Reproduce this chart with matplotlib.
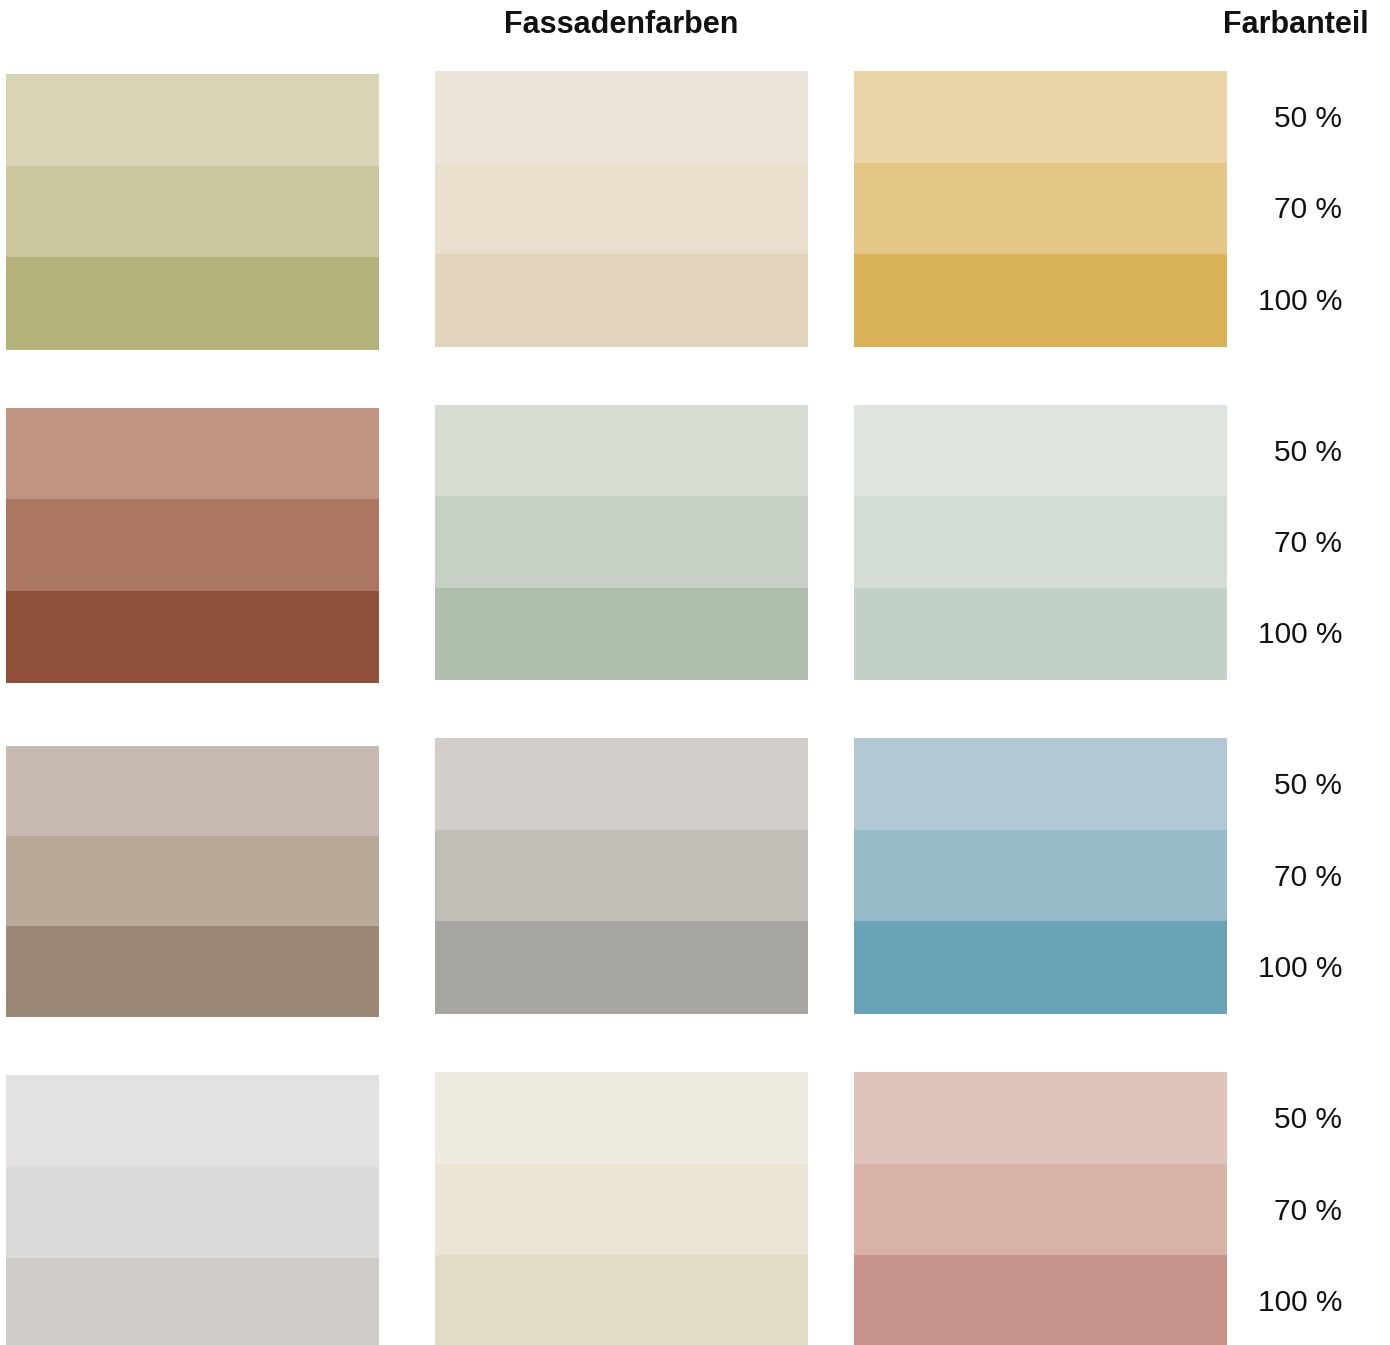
import matplotlib
matplotlib.use('Agg')
import matplotlib.pyplot as plt

plt.rcParams['font.family'] = ['Liberation Sans', 'DejaVu Sans']

# colour shades per swatch: [50 %, 70 %, 100 %], rows top to bottom, columns left to right
row1 = [['#d8d4b5', '#c9c79b', '#b3b279'],
        ['#ede5d9', '#e9dfcd', '#e2d4bb'],
        ['#ebd5a6', '#e4c687', '#dab358']]
row2 = [['#c09483', '#ab7761', '#8f513a'],
        ['#d6dcd2', '#c6d0c4', '#b0bfad'],
        ['#dee5de', '#d3ddd4', '#c3d0c5']]
row3 = [['#c8bab0', '#b7a898', '#9c8877'],
        ['#d2cdc8', '#c1bdb7', '#a8a6a0'],
        ['#b2c9d5', '#97bac9', '#69a3b7']]
row4 = [['#e3e2e0', '#dadad8', '#d0ccc9'],
        ['#eeeadf', '#ebe4d4', '#e2dcc5'],
        ['#e0c3bb', '#d8b1a7', '#c8938a']]
rows = [row1, row2, row3, row4]
shares = ['50 %', '70 %', '100 %']
title = 'Fassadenfarben'
share_title = 'Farbanteil'

# layout (pixels)
col_left = [6, 434.5, 853.5]
sw_width = 373
tops = [[74, 71, 71], [408, 405, 405], [746, 738, 738], [1075, 1072, 1072]]
sw_height = [[275, 275, 275], [274, 274, 274], [270, 275, 275], [275, 275, 275]]

fig = plt.figure(figsize=(13.9, 13.45), dpi=100)
ax = fig.add_axes([0, 0, 1, 1])
ax.set_xlim(0, 1390)
ax.set_ylim(1345, 0)
ax.axis('off')

for r, row in enumerate(rows):
    for c, shades in enumerate(row):
        band = sw_height[r][c] / 3
        for i, col in enumerate(shades):
            ax.bar(col_left[c] + sw_width / 2, band + 0.6, width=sw_width,
                   bottom=tops[r][c] + i * band, color=col, linewidth=0)
    band = sw_height[r][2] / 3
    for i, s in enumerate(shares):
        ax.text(1342, tops[r][2] + (i + 0.5) * band + 2, s, ha='right', va='center',
                fontsize=21.5, color='#111111')

ax.text(621, 25, title, ha='center', va='center', fontsize=22,
        fontweight='bold', color='#111111')
ax.text(1369, 25, share_title, ha='right', va='center', fontsize=22,
        fontweight='bold', color='#111111')

fig.savefig('out.png', dpi=100, facecolor='white')
